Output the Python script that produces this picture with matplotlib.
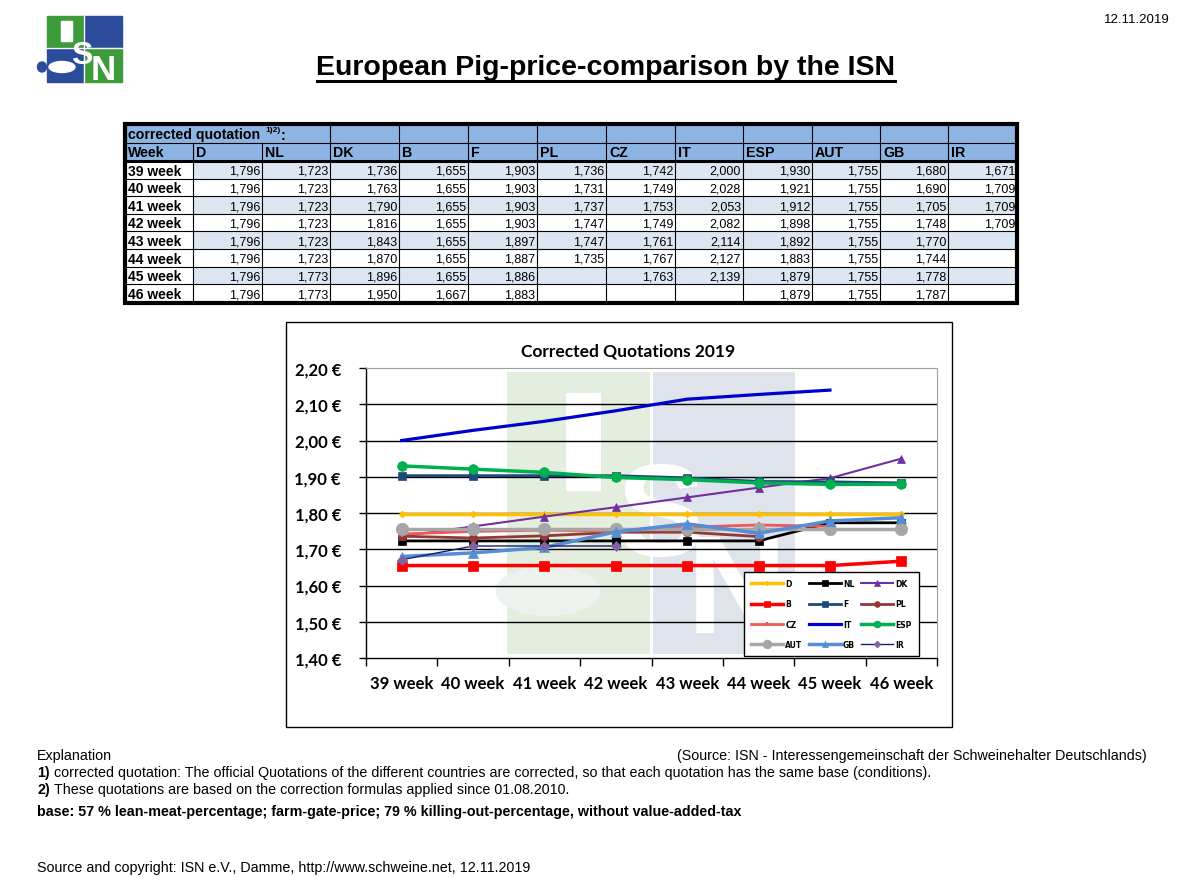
import matplotlib
matplotlib.use('Agg')
import matplotlib.pyplot as plt
from matplotlib.patches import Rectangle, Ellipse
import numpy as np

W, H = 1203, 878
nan = np.nan

# --- data -------------------------------------------------------------
weeks = ["39 week", "40 week", "41 week", "42 week", "43 week", "44 week", "45 week", "46 week"]
countries = ["D", "NL", "DK", "B", "F", "PL", "CZ", "IT", "ESP", "AUT", "GB", "IR"]

D   = [1.796, 1.796, 1.796, 1.796, 1.796, 1.796, 1.796, 1.796]
NL  = [1.723, 1.723, 1.723, 1.723, 1.723, 1.723, 1.773, 1.773]
DK  = [1.736, 1.763, 1.790, 1.816, 1.843, 1.870, 1.896, 1.950]
B   = [1.655, 1.655, 1.655, 1.655, 1.655, 1.655, 1.655, 1.667]
F   = [1.903, 1.903, 1.903, 1.903, 1.897, 1.887, 1.886, 1.883]
PL  = [1.736, 1.731, 1.737, 1.747, 1.747, 1.735, nan, nan]
CZ  = [1.742, 1.749, 1.753, 1.749, 1.761, 1.767, 1.763, nan]
IT  = [2.000, 2.028, 2.053, 2.082, 2.114, 2.127, 2.139, nan]
ESP = [1.930, 1.921, 1.912, 1.898, 1.892, 1.883, 1.879, 1.879]
AUT = [1.755, 1.755, 1.755, 1.755, 1.755, 1.755, 1.755, 1.755]
GB  = [1.680, 1.690, 1.705, 1.748, 1.770, 1.744, 1.778, 1.787]
IR  = [1.671, 1.709, 1.709, 1.709, nan, nan, nan, nan]
series = [D, NL, DK, B, F, PL, CZ, IT, ESP, AUT, GB, IR]

# colour, marker, markersize, linewidth
styles = {
    "D":   ("#FFC000", "D", 3.5, 2.5),
    "NL":  ("#000000", "s", 6, 2.0),
    "DK":  ("#7030A0", "^", 6, 1.5),
    "B":   ("#FF0000", "s", 7, 2.5),
    "F":   ("#1F497D", "s", 6, 2.0),
    "PL":  ("#953735", "o", 6, 2.0),
    "CZ":  ("#F05858", "+", 5, 2.0),
    "IT":  ("#0000CC", None, 0, 2.3),
    "ESP": ("#00B050", "o", 7, 2.5),
    "AUT": ("#A6A6A6", "o", 9, 2.5),
    "GB":  ("#558ED5", "^", 7, 2.5),
    "IR":  ("#1A1A6E", "D", 5, 1.0),
}

fig = plt.figure(figsize=(W / 100, H / 100), dpi=100)

# overlay axes in pixel coords for the page
ax0 = fig.add_axes([0, 0, 1, 1], zorder=0)
ax0.set_xlim(0, W)
ax0.set_ylim(H, 0)
ax0.axis('off')

TF = 'Liberation Sans'

# logo
green, blue = '#3E9B3A', '#2B4C9B'
ax0.add_patch(Rectangle((47, 17), 37, 32, color=green))
ax0.add_patch(Rectangle((84, 17), 38, 32, color=blue))
ax0.add_patch(Rectangle((47, 49), 37, 34, color=blue))
ax0.add_patch(Rectangle((84, 49), 38, 34, color=green))
ax0.plot([84, 84], [17, 83], color='white', lw=1)
ax0.plot([47, 122], [49, 49], color='white', lw=1)
ax0.add_patch(Rectangle((61, 22), 11, 20, color='white'))
ax0.add_patch(Ellipse((62, 68), 26, 11, color='white'))
ax0.add_patch(Ellipse((42, 68), 9, 10, color=blue))
ax0.text(82, 56, "S", color='white', fontsize=23, weight='bold', family=TF, ha='center', va='center')
ax0.text(103, 70, "N", color='white', fontsize=25, weight='bold', family=TF, ha='center', va='center')

ax0.text(1170, 20, "12.11.2019", fontsize=9.5, family=TF, ha='right', va='center')

ax0.text(606, 68, "European Pig-price-comparison by the ISN", fontsize=20.5, weight='bold',
         family=TF, ha='center', va='center')
ax0.plot([317, 895], [82, 82], color='black', lw=2.2)

# --- table ------------------------------------------------------------
col_edges = [125, 193, 262, 330, 399, 468, 537, 606, 675, 743, 812, 880, 948, 1017]
h1_top, h2_top, data_top, row_h = 126, 144, 162, 17.6
data_bot = data_top + row_h * len(weeks)
hdr_col = '#8DB4E2'
alt_col = '#DCE6F1'

ax0.add_patch(Rectangle((125, h1_top), 1017 - 125, data_top - h1_top, color=hdr_col, lw=0))
for i, wk in enumerate(weeks):
    y0 = data_top + i * row_h
    if i % 2 == 0:
        ax0.add_patch(Rectangle((193, y0), 1017 - 193, row_h, color=alt_col, lw=0))
    ax0.text(128, y0 + row_h / 2 + 0.8, wk, fontsize=10, weight='bold', family=TF, va='center')
    for j, vals in enumerate(series):
        v = vals[i]
        if not np.isnan(v):
            ax0.text(col_edges[j + 2] - 2, y0 + row_h / 2 + 1.2, f"{v:.3f}".replace('.', ','),
                     fontsize=9, family=TF, ha='right', va='center')
    ax0.plot([125, 1017], [y0, y0], color='black', lw=0.8)

ax0.text(128, 135.5, "corrected quotation", fontsize=10.2, weight='bold', family=TF, va='center')
ax0.text(265, 130, "1)2)", fontsize=6, weight='bold', family=TF, va='center')
ax0.text(281, 135.5, ":", fontsize=10.2, weight='bold', family=TF, va='center')
ax0.text(128, 153, "Week", fontsize=10.2, weight='bold', family=TF, va='center')
for j, c in enumerate(countries):
    ax0.text(col_edges[j + 1] + 3, 153, c, fontsize=10.2, weight='bold', family=TF, va='center')

for k, x in enumerate(col_edges[1:-1]):
    top = h2_top if x in (193, 262) else h1_top
    ax0.plot([x, x], [top, data_bot], color='black', lw=0.8)
ax0.plot([125, 1017], [h2_top, h2_top], color='black', lw=0.8)
ax0.plot([125, 1017], [data_top, data_top], color='black', lw=2.2)
ax0.add_patch(Rectangle((125, h1_top - 1), 1017 - 125, data_bot - h1_top + 2,
                        fill=False, edgecolor='black', lw=3))

# --- chart frame and watermark ---------------------------------------
ax0.add_patch(Rectangle((286, 323), 666, 405, facecolor='white', edgecolor='black', lw=1))
ax0.add_patch(Rectangle((507, 373), 143, 282, color='#E3EEDE', lw=0))
ax0.add_patch(Rectangle((653, 373), 142, 282, color='#DEE3EC', lw=0))
ax0.add_patch(Rectangle((566, 394), 35, 98, color='white', lw=0))
ax0.text(660, 522, "S", color='white', fontsize=95, weight='bold', family=TF, ha='center', va='center')
ax0.text(737, 597, "N", color='white', fontsize=100, weight='bold', family=TF, ha='center', va='center')
ax0.add_patch(Ellipse((548, 592), 105, 50, color='#EEF2EE', lw=0))

ax0.text(628, 352, "Corrected Quotations 2019", fontsize=12.5, weight='bold', family='Lato',
         ha='center', va='center')

# --- line chart -------------------------------------------------------
ax = fig.add_axes([366 / W, 1 - 659 / H, 571 / W, 290 / H], zorder=2)
ax.patch.set_alpha(0)
x = np.arange(len(weeks))
yt = np.arange(1.40, 2.201, 0.10)
for yv in yt[1:-1]:
    ax.axhline(yv, color='black', lw=1, zorder=0)

handles = []
for name, vals in zip(countries, series):
    col, mk, ms, lw = styles[name]
    mfc = '#8064A2' if name == "IR" else col
    ln, = ax.plot(x, vals, color=col, lw=lw, marker=mk, ms=ms, mfc=mfc, mec=mfc,
                  mew=1.5 if mk == '+' else 0.5, label=name)
    handles.append(ln)

ax.set_xlim(-0.5, 7.5)
ax.set_ylim(1.40, 2.20)
ax.set_yticks(yt)
ax.set_yticklabels([f"{v:.2f} €".replace('.', ',') for v in yt], fontsize=12, weight='bold',
                   family='Lato')
ax.tick_params(axis='y', length=5, width=1, pad=13)
ax.set_xticks(x)
ax.set_xticklabels(weeks, fontsize=12, weight='bold', family='Lato')
ax.tick_params(axis='x', which='major', length=0, pad=12)
ax.set_xticks(np.arange(-0.5, 8, 1), minor=True)
ax.tick_params(axis='x', which='minor', length=6, width=1)
for s in ('top', 'right'):
    ax.spines[s].set_color('#A0A0A0')
for s in ('left', 'bottom'):
    ax.spines[s].set_color('black')
    ax.spines[s].set_linewidth(1)

order = [0, 3, 6, 9, 1, 4, 7, 10, 2, 5, 8, 11]
leg = ax.legend([handles[i] for i in order], [countries[i] for i in order], ncol=3,
                loc='lower left', bbox_to_anchor=(0.662, 0.007, 0.306, 0.296), mode='expand',
                fontsize=5.5, handlelength=4.2, labelspacing=1.5, markerscale=0.7,
                fancybox=False, framealpha=1, edgecolor='black', borderpad=0.9,
                borderaxespad=0, handletextpad=0.3, columnspacing=0.8)
for t in leg.get_texts():
    t.set_fontweight('bold')
leg.get_frame().set_linewidth(1)

# --- notes ------------------------------------------------------------
NF = 10.3
ax0.text(37, 756, "Explanation", fontsize=NF, family=TF, va='center')
ax0.text(1147, 756, "(Source: ISN - Interessengemeinschaft der Schweinehalter Deutschlands)",
         fontsize=NF, family=TF, va='center', ha='right')
ax0.text(37, 773, "1)", fontsize=NF, family=TF, weight='bold', va='center')
ax0.text(54, 773, "corrected quotation: The official Quotations of the different countries are corrected, "
         "so that each quotation has the same base (conditions).", fontsize=NF, family=TF, va='center')
ax0.text(37, 790, "2)", fontsize=NF, family=TF, weight='bold', va='center')
ax0.text(54, 790, "These quotations are based on the correction formulas applied since 01.08.2010.",
         fontsize=NF, family=TF, va='center')
ax0.text(37, 812, "base: 57 % lean-meat-percentage; farm-gate-price; 79 % killing-out-percentage, "
         "without value-added-tax", fontsize=NF, family=TF, weight='bold', va='center')
ax0.text(37, 868, "Source and copyright: ISN e.V., Damme, http://www.schweine.net, 12.11.2019",
         fontsize=NF, family=TF, va='center')

fig.savefig("out.png", dpi=100)
